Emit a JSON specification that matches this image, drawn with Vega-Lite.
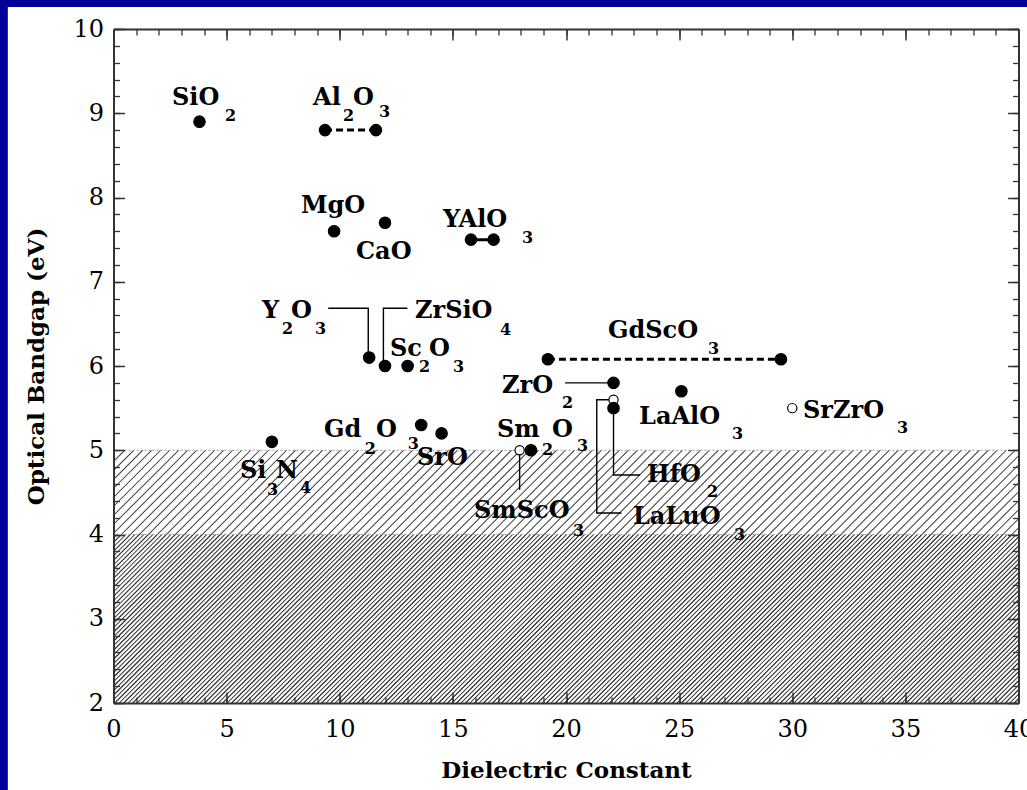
{
  "$schema": "https://vega.github.io/schema/vega-lite/v6.json",
  "width": 905,
  "height": 674,
  "autosize": {"type": "none"},
  "padding": {"left": 113.5, "top": 29, "right": 8.5, "bottom": 87},
  "background": "#000099",
  "config": {"view": {"stroke": null}, "font": "DejaVu Serif"},
  "datasets": {
    "points": [
      {"m": "SiO2", "k": 3.8, "eg": 8.9, "type": "filled"},
      {"m": "Al2O3", "k": 9.35, "eg": 8.8, "type": "filled"},
      {"m": "Al2O3", "k": 11.6, "eg": 8.8, "type": "filled"},
      {"m": "MgO", "k": 9.75, "eg": 7.6, "type": "filled"},
      {"m": "CaO", "k": 12.0, "eg": 7.7, "type": "filled"},
      {"m": "YAlO3", "k": 15.8, "eg": 7.5, "type": "filled"},
      {"m": "YAlO3", "k": 16.8, "eg": 7.5, "type": "filled"},
      {"m": "Y2O3", "k": 11.3, "eg": 6.1, "type": "filled"},
      {"m": "ZrSiO4", "k": 12.0, "eg": 6.0, "type": "filled"},
      {"m": "Sc2O3", "k": 13.0, "eg": 6.0, "type": "filled"},
      {"m": "GdScO3", "k": 19.2, "eg": 6.08, "type": "filled"},
      {"m": "GdScO3", "k": 29.5, "eg": 6.08, "type": "filled"},
      {"m": "ZrO2", "k": 22.1, "eg": 5.8, "type": "filled"},
      {"m": "LaLuO3", "k": 22.1, "eg": 5.6, "type": "open"},
      {"m": "HfO2", "k": 22.1, "eg": 5.5, "type": "filled"},
      {"m": "LaAlO3", "k": 25.1, "eg": 5.7, "type": "filled"},
      {"m": "SrZrO3", "k": 30.0, "eg": 5.5, "type": "open"},
      {"m": "SmScO3", "k": 17.95, "eg": 5.0, "type": "open"},
      {"m": "Sm2O3", "k": 18.45, "eg": 5.0, "type": "filled"},
      {"m": "Si3N4", "k": 7.0, "eg": 5.1, "type": "filled"},
      {"m": "Gd2O3", "k": 13.6, "eg": 5.3, "type": "filled"},
      {"m": "SrO", "k": 14.5, "eg": 5.2, "type": "filled"}
    ],
    "leaders": [
      {"id": "Y2O3", "o": 1, "x": 9.49, "y": 6.685},
      {"id": "Y2O3", "o": 2, "x": 11.26, "y": 6.685},
      {"id": "Y2O3", "o": 3, "x": 11.26, "y": 6.1},
      {"id": "ZrSiO4", "o": 1, "x": 12.99, "y": 6.685},
      {"id": "ZrSiO4", "o": 2, "x": 11.93, "y": 6.685},
      {"id": "ZrSiO4", "o": 3, "x": 11.93, "y": 6.0},
      {"id": "ZrO2", "o": 1, "x": 19.96, "y": 5.8},
      {"id": "ZrO2", "o": 2, "x": 22.1, "y": 5.8},
      {"id": "HfO2", "o": 1, "x": 22.1, "y": 5.5},
      {"id": "HfO2", "o": 2, "x": 22.1, "y": 4.706},
      {"id": "HfO2", "o": 3, "x": 23.27, "y": 4.706},
      {"id": "LaLuO3", "o": 1, "x": 21.9, "y": 5.6},
      {"id": "LaLuO3", "o": 2, "x": 21.36, "y": 5.6},
      {"id": "LaLuO3", "o": 3, "x": 21.36, "y": 4.255},
      {"id": "LaLuO3", "o": 4, "x": 22.45, "y": 4.255},
      {"id": "SmScO3", "o": 1, "x": 17.95, "y": 4.95},
      {"id": "SmScO3", "o": 2, "x": 17.95, "y": 4.53}
    ],
    "labels": [
      {"t": "SiO", "x": 2.586, "y": 9.098},
      {"t": "Al", "x": 8.818, "y": 9.098},
      {"t": "O", "x": 10.586, "y": 9.098},
      {"t": "MgO", "x": 8.287, "y": 7.816},
      {"t": "CaO", "x": 10.718, "y": 7.27},
      {"t": "YAlO", "x": 14.564, "y": 7.65},
      {"t": "Y", "x": 6.564, "y": 6.57},
      {"t": "O", "x": 7.845, "y": 6.57},
      {"t": "ZrSiO", "x": 13.326, "y": 6.57},
      {"t": "Sc", "x": 12.221, "y": 6.119},
      {"t": "O", "x": 13.95, "y": 6.119},
      {"t": "GdScO", "x": 21.856, "y": 6.332},
      {"t": "ZrO", "x": 17.171, "y": 5.68},
      {"t": "LaAlO", "x": 23.227, "y": 5.312},
      {"t": "SrZrO", "x": 30.475, "y": 5.383},
      {"t": "Gd", "x": 9.3, "y": 5.157},
      {"t": "O", "x": 11.6, "y": 5.157},
      {"t": "SrO", "x": 13.414, "y": 4.825},
      {"t": "Sm", "x": 16.95, "y": 5.157},
      {"t": "O", "x": 19.381, "y": 5.157},
      {"t": "Si", "x": 5.591, "y": 4.671},
      {"t": "N", "x": 7.182, "y": 4.671},
      {"t": "SmScO", "x": 15.934, "y": 4.196},
      {"t": "HfO", "x": 23.58, "y": 4.623},
      {"t": "LaLuO", "x": 22.961, "y": 4.125}
    ],
    "subs": [
      {"t": "2", "x": 4.928, "y": 8.908},
      {"t": "2", "x": 10.144, "y": 8.908},
      {"t": "3", "x": 11.735, "y": 8.955},
      {"t": "3", "x": 18.055, "y": 7.46},
      {"t": "2", "x": 7.448, "y": 6.38},
      {"t": "3", "x": 8.906, "y": 6.38},
      {"t": "4", "x": 17.083, "y": 6.368},
      {"t": "2", "x": 13.5, "y": 5.929},
      {"t": "3", "x": 15.0, "y": 5.929},
      {"t": "3", "x": 26.276, "y": 6.142},
      {"t": "2", "x": 19.823, "y": 5.501},
      {"t": "3", "x": 27.337, "y": 5.134},
      {"t": "3", "x": 34.63, "y": 5.205},
      {"t": "2", "x": 11.1, "y": 4.95},
      {"t": "3", "x": 13.0, "y": 5.015},
      {"t": "2", "x": 18.939, "y": 4.944},
      {"t": "3", "x": 20.486, "y": 4.991},
      {"t": "3", "x": 6.785, "y": 4.469},
      {"t": "4", "x": 8.243, "y": 4.493},
      {"t": "3", "x": 20.309, "y": 3.982},
      {"t": "2", "x": 26.232, "y": 4.45},
      {"t": "3", "x": 27.425, "y": 3.935}
    ]
  },
  "layer": [
    {
      "data": {"values": [{}]},
      "mark": {"type": "rect", "fill": "#ffffff", "clip": false},
      "encoding": {
        "x": {"datum": -4.67, "type": "quantitative", "scale": {"domain": [0, 40], "nice": false, "zero": false},
          "axis": {"orient": "bottom", "values": [0, 5, 10, 15, 20, 25, 30, 35, 40], "ticks": false, "grid": false, "domain": true, "domainColor": "#333333", "domainWidth": 2,
            "labelFont": "DejaVu Serif", "labelFontSize": 24, "labelColor": "#000000", "labelPadding": 14, "labelFlush": false, "labelOverlap": false,
            "title": "Dielectric Constant", "titleFont": "DejaVu Serif", "titleFontSize": 23, "titleFontWeight": "bold", "titleColor": "#000000", "titlePadding": 18, "zindex": 1}},
        "x2": {"datum": 41},
        "y": {"datum": 0.9, "type": "quantitative", "scale": {"domain": [2, 10], "nice": false, "zero": false},
          "axis": {"orient": "left", "values": [2, 3, 4, 5, 6, 7, 8, 9, 10], "ticks": false, "grid": false, "domain": true, "domainColor": "#333333", "domainWidth": 2,
            "labelFont": "DejaVu Serif", "labelFontSize": 24, "labelColor": "#000000", "labelPadding": 10, "labelFlush": false, "labelOverlap": false,
            "title": "Optical Bandgap (eV)", "titleFont": "DejaVu Serif", "titleFontSize": 23, "titleFontWeight": "bold", "titleColor": "#000000", "titlePadding": 24, "zindex": 1}},
        "y2": {"datum": 10.26}
      }
    },
    {
      "data": {"values": [{}]},
      "mark": {"type": "rule", "clip": true, "strokeWidth": 1300, "strokeDash": [1.0, 2.18], "color": "#3a3a3a"},
      "encoding": {
        "x": {"datum": -5, "type": "quantitative", "scale": {"domain": [0, 40], "nice": false, "zero": false},
          "axis": {"orient": "bottom", "values": [0, 5, 10, 15, 20, 25, 30, 35, 40], "ticks": true, "tickSize": -11, "tickWidth": 1.5, "tickColor": "#333333", "labels": false, "domain": false, "grid": false, "title": null, "zindex": 1}},
        "x2": {"datum": 45},
        "y": {"datum": 12.714, "type": "quantitative", "scale": {"domain": [2, 10], "nice": false, "zero": false},
          "axis": {"orient": "left", "values": [2, 3, 4, 5, 6, 7, 8, 9, 10], "ticks": true, "tickSize": -11, "tickWidth": 1.5, "tickColor": "#333333", "labels": false, "domain": false, "grid": false, "title": null, "zindex": 1}},
        "y2": {"datum": -0.714}
      }
    },
    {
      "data": {"values": [{}]},
      "mark": {"type": "rect", "fill": "#ffffff"},
      "encoding": {
        "x": {"datum": 0, "type": "quantitative", "scale": {"domain": [0, 40], "nice": false, "zero": false},
          "axis": {"orient": "bottom", "values": [0,1,2,3,4,5,6,7,8,9,10,11,12,13,14,15,16,17,18,19,20,21,22,23,24,25,26,27,28,29,30,31,32,33,34,35,36,37,38,39,40], "ticks": true, "tickSize": -6, "tickWidth": 1.3, "tickColor": "#333333", "labels": false, "domain": false, "grid": false, "title": null, "zindex": 1}},
        "x2": {"datum": 40},
        "y": {"datum": 4, "type": "quantitative", "scale": {"domain": [2, 10], "nice": false, "zero": false},
          "axis": {"orient": "left", "values": [2,2.2,2.4,2.6,2.8,3,3.2,3.4,3.6,3.8,4,4.2,4.4,4.6,4.8,5,5.2,5.4,5.6,5.8,6,6.2,6.4,6.6,6.8,7,7.2,7.4,7.6,7.8,8,8.2,8.4,8.6,8.8,9,9.2,9.4,9.6,9.8,10], "ticks": true, "tickSize": -6, "tickWidth": 1.3, "tickColor": "#333333", "labels": false, "domain": false, "grid": false, "title": null, "zindex": 1}},
        "y2": {"datum": 10}
      }
    },
    {
      "data": {"values": [{}]},
      "mark": {"type": "rule", "clip": true, "strokeWidth": 1300, "strokeDash": [1.0, 5.36], "color": "#3a3a3a"},
      "encoding": {
        "x": {"datum": -5, "type": "quantitative", "scale": {"domain": [0, 40], "nice": false, "zero": false},
          "axis": {"orient": "top", "values": [0, 5, 10, 15, 20, 25, 30, 35, 40], "ticks": true, "tickSize": -11, "tickWidth": 1.5, "tickColor": "#333333", "labels": false, "domain": true, "domainColor": "#333333", "domainWidth": 2, "grid": false, "title": null, "zindex": 1}},
        "x2": {"datum": 45},
        "y": {"datum": 12.714, "type": "quantitative", "scale": {"domain": [2, 10], "nice": false, "zero": false},
          "axis": {"orient": "right", "values": [2, 3, 4, 5, 6, 7, 8, 9, 10], "ticks": true, "tickSize": -11, "tickWidth": 1.5, "tickColor": "#333333", "labels": false, "domain": true, "domainColor": "#333333", "domainWidth": 2, "grid": false, "title": null, "zindex": 1}},
        "y2": {"datum": -0.714}
      }
    },
    {
      "data": {"values": [{}]},
      "mark": {"type": "rect", "fill": "#ffffff"},
      "encoding": {
        "x": {"datum": 0, "type": "quantitative", "scale": {"domain": [0, 40], "nice": false, "zero": false},
          "axis": {"orient": "top", "values": [0,1,2,3,4,5,6,7,8,9,10,11,12,13,14,15,16,17,18,19,20,21,22,23,24,25,26,27,28,29,30,31,32,33,34,35,36,37,38,39,40], "ticks": true, "tickSize": -6, "tickWidth": 1.3, "tickColor": "#333333", "labels": false, "domain": false, "grid": false, "title": null, "zindex": 1}},
        "x2": {"datum": 40},
        "y": {"datum": 5, "type": "quantitative", "scale": {"domain": [2, 10], "nice": false, "zero": false},
          "axis": {"orient": "right", "values": [2,2.2,2.4,2.6,2.8,3,3.2,3.4,3.6,3.8,4,4.2,4.4,4.6,4.8,5,5.2,5.4,5.6,5.8,6,6.2,6.4,6.6,6.8,7,7.2,7.4,7.6,7.8,8,8.2,8.4,8.6,8.8,9,9.2,9.4,9.6,9.8,10], "ticks": true, "tickSize": -6, "tickWidth": 1.3, "tickColor": "#333333", "labels": false, "domain": false, "grid": false, "title": null, "zindex": 1}},
        "y2": {"datum": 10}
      }
    },
    {
      "data": {"values": [{"b": 4}, {"b": 5}]},
      "mark": {"type": "rule", "color": "#9a9a9a", "strokeWidth": 1, "strokeDash": [2, 2]},
      "encoding": {
        "y": {"field": "b", "type": "quantitative", "scale": {"domain": [2, 10], "nice": false, "zero": false}, "axis": null}
      }
    },
    {
      "data": {"name": "points"},
      "transform": [{"filter": {"field": "m", "oneOf": ["Al2O3", "YAlO3", "GdScO3"]}}],
      "mark": {"type": "line", "color": "#000000", "strokeWidth": 3},
      "encoding": {
        "x": {"field": "k", "type": "quantitative", "scale": {"domain": [0, 40], "nice": false, "zero": false}, "axis": null},
        "y": {"field": "eg", "type": "quantitative", "scale": {"domain": [2, 10], "nice": false, "zero": false}, "axis": null},
        "detail": {"field": "m"},
        "strokeDash": {"field": "m", "type": "nominal", "scale": {"domain": ["Al2O3", "YAlO3", "GdScO3"], "range": [[7, 4], [1, 0], [7, 4]]}, "legend": null}
      }
    },
    {
      "data": {"name": "leaders"},
      "mark": {"type": "line", "color": "#000000", "strokeWidth": 1.4},
      "encoding": {
        "x": {"field": "x", "type": "quantitative", "scale": {"domain": [0, 40], "nice": false, "zero": false}, "axis": null},
        "y": {"field": "y", "type": "quantitative", "scale": {"domain": [2, 10], "nice": false, "zero": false}, "axis": null},
        "detail": {"field": "id"},
        "order": {"field": "o"}
      }
    },
    {
      "data": {"name": "points"},
      "mark": {"type": "point", "shape": "circle", "filled": true, "stroke": "#000000", "strokeWidth": 1.2, "opacity": 1},
      "encoding": {
        "x": {"field": "k", "type": "quantitative", "scale": {"domain": [0, 40], "nice": false, "zero": false}, "axis": null},
        "y": {"field": "eg", "type": "quantitative", "scale": {"domain": [2, 10], "nice": false, "zero": false}, "axis": null},
        "fill": {"field": "type", "type": "nominal", "scale": {"domain": ["filled", "open"], "range": ["#000000", "#ffffff"]}, "legend": null},
        "size": {"field": "type", "type": "nominal", "scale": {"domain": ["filled", "open"], "range": [130, 85]}, "legend": null}
      }
    },
    {
      "data": {"name": "labels"},
      "mark": {"type": "text", "align": "left", "baseline": "alphabetic", "font": "DejaVu Serif", "fontWeight": "bold", "fontSize": 24, "color": "#000000"},
      "encoding": {
        "x": {"field": "x", "type": "quantitative", "scale": {"domain": [0, 40], "nice": false, "zero": false}, "axis": null},
        "y": {"field": "y", "type": "quantitative", "scale": {"domain": [2, 10], "nice": false, "zero": false}, "axis": null},
        "text": {"field": "t"}
      }
    },
    {
      "data": {"name": "subs"},
      "mark": {"type": "text", "align": "left", "baseline": "alphabetic", "font": "DejaVu Serif", "fontWeight": "bold", "fontSize": 16, "color": "#000000"},
      "encoding": {
        "x": {"field": "x", "type": "quantitative", "scale": {"domain": [0, 40], "nice": false, "zero": false}, "axis": null},
        "y": {"field": "y", "type": "quantitative", "scale": {"domain": [2, 10], "nice": false, "zero": false}, "axis": null},
        "text": {"field": "t"}
      }
    }
  ],
  "resolve": {"axis": {"x": "independent", "y": "independent"}}
}
